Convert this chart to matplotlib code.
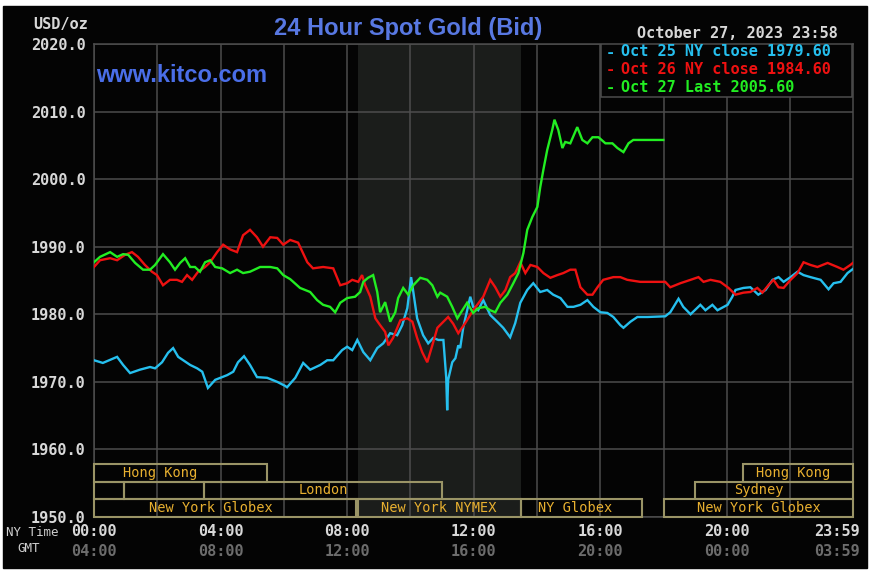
import matplotlib
matplotlib.use('Agg')
import matplotlib.pyplot as plt
from matplotlib.patches import Rectangle
from matplotlib import transforms

# ── 1. DATA (NY time in hours) ───────────────────────────────────────────────
oct25_hours = [0.00, 0.28, 0.73, 0.92, 1.14, 1.45, 1.77, 1.93, 2.15, 2.34, 2.50, 2.66,
               3.04, 3.26, 3.42, 3.60, 3.83, 4.21, 4.40, 4.55, 4.74, 4.93, 5.15, 5.47,
               5.79, 6.04, 6.10, 6.36, 6.61, 6.83, 7.15, 7.37, 7.56, 7.84, 8.00, 8.16,
               8.32, 8.51, 8.73, 8.95, 9.14, 9.36, 9.58, 9.74, 9.90, 10.02, 10.09, 10.21,
               10.40, 10.56, 10.72, 10.88, 11.04, 11.13, 11.16, 11.19, 11.32, 11.42, 11.51,
               11.57, 11.67, 11.89, 11.98, 12.14, 12.30, 12.52, 12.74, 12.93, 13.15, 13.31,
               13.47, 13.69, 13.88, 14.10, 14.32, 14.51, 14.74, 14.96, 15.15, 15.37, 15.59,
               15.78, 16.00, 16.22, 16.41, 16.63, 16.73, 16.95, 17.17, 17.49, 18.05, 18.21,
               18.47, 18.62, 18.85, 19.16, 19.32, 19.54, 19.70, 20.02, 20.17, 20.27, 20.52,
               20.74, 20.99, 21.22, 21.44, 21.63, 21.79, 22.01, 22.23, 22.42, 22.64, 22.96,
               23.21, 23.37, 23.59, 23.81, 23.98]
oct25_price = [1973.2, 1972.8, 1973.7, 1972.5, 1971.3, 1971.8, 1972.2, 1972.0, 1972.9, 1974.3,
               1975.0, 1973.7, 1972.5, 1972.0, 1971.5, 1969.1, 1970.3, 1971.0, 1971.5, 1972.9,
               1973.8, 1972.5, 1970.7, 1970.6, 1970.0, 1969.4, 1969.2, 1970.6, 1972.8, 1971.8,
               1972.5, 1973.2, 1973.2, 1974.7, 1975.2, 1974.7, 1976.2, 1974.4, 1973.2, 1975.0,
               1975.7, 1977.2, 1976.9, 1978.4, 1980.9, 1985.5, 1983.3, 1979.4, 1976.9, 1975.7,
               1976.5, 1976.2, 1976.2, 1970.6, 1965.8, 1970.3, 1972.9, 1973.5, 1975.4, 1975.0,
               1978.1, 1982.6, 1981.1, 1980.6, 1982.1, 1979.9, 1978.9, 1978.0, 1976.6, 1978.7,
               1981.7, 1983.6, 1984.6, 1983.3, 1983.6, 1982.9, 1982.4, 1981.1, 1981.1, 1981.4,
               1982.1, 1981.1, 1980.3, 1980.2, 1979.6, 1978.4, 1978.0, 1978.9, 1979.6, 1979.6,
               1979.7, 1980.3, 1982.3, 1981.1, 1980.0, 1981.4, 1980.6, 1981.4, 1980.6, 1981.4,
               1982.6, 1983.6, 1983.9, 1984.0, 1982.9, 1983.6, 1985.1, 1985.5, 1984.8, 1985.5,
               1986.3, 1985.8, 1985.5, 1985.1, 1983.7, 1984.6, 1984.8, 1986.1, 1986.7]

oct26_hours = [0.00, 0.19, 0.51, 0.73, 0.98, 1.20, 1.39, 1.61, 1.83, 1.99, 2.18, 2.40, 2.62,
               2.78, 2.94, 3.10, 3.29, 3.51, 3.67, 3.89, 4.08, 4.30, 4.52, 4.71, 4.93, 5.15,
               5.34, 5.57, 5.79, 5.98, 6.20, 6.45, 6.74, 6.92, 7.24, 7.56, 7.78, 8.00, 8.16,
               8.35, 8.47, 8.57, 8.73, 8.89, 9.04, 9.20, 9.30, 9.45, 9.68, 9.90, 10.06, 10.21,
               10.37, 10.53, 10.69, 10.85, 11.04, 11.19, 11.35, 11.51, 11.73, 11.98, 12.30,
               12.52, 12.68, 12.84, 13.00, 13.15, 13.31, 13.47, 13.63, 13.79, 14.01, 14.20,
               14.42, 14.64, 14.83, 15.05, 15.21, 15.37, 15.59, 15.75, 15.91, 16.09, 16.41,
               16.63, 16.85, 17.26, 18.05, 18.21, 18.53, 18.85, 19.10, 19.26, 19.48, 19.79,
               20.05, 20.27, 20.52, 20.74, 20.96, 21.12, 21.31, 21.47, 21.63, 21.79, 22.01,
               22.23, 22.42, 22.64, 22.86, 23.18, 23.49, 23.68, 23.90, 23.98]
oct26_price = [1987.0, 1988.0, 1988.3, 1988.0, 1988.8, 1989.2, 1988.5, 1987.3, 1986.3, 1985.8,
               1984.3, 1985.1, 1985.1, 1984.8, 1985.8, 1985.1, 1986.3, 1987.0, 1987.7, 1989.2,
               1990.3, 1989.6, 1989.2, 1991.7, 1992.5, 1991.4, 1990.0, 1991.4, 1991.3, 1990.3,
               1991.0, 1990.6, 1987.7, 1986.8, 1987.0, 1986.8, 1984.3, 1984.6, 1985.1, 1984.8,
               1985.8, 1984.3, 1982.6, 1979.4, 1978.4, 1977.4, 1975.4, 1976.5, 1979.1, 1979.4,
               1978.9, 1976.5, 1974.4, 1972.9, 1975.4, 1978.0, 1978.9, 1979.6, 1978.6, 1977.2,
               1978.7, 1980.6, 1982.6, 1985.1, 1984.0, 1982.6, 1983.6, 1985.5, 1986.1, 1987.7,
               1986.1, 1987.3, 1987.0, 1986.1, 1985.4, 1985.8, 1986.1, 1986.6, 1986.6, 1984.0,
               1982.9, 1982.9, 1984.0, 1985.1, 1985.5, 1985.5, 1985.1, 1984.8, 1984.8, 1984.0,
               1984.6, 1985.1, 1985.5, 1984.8, 1985.1, 1984.8, 1983.9, 1982.9, 1983.2, 1983.3,
               1983.9, 1983.2, 1984.3, 1985.1, 1984.0, 1983.9, 1985.1, 1986.1, 1987.7, 1987.3,
               1987.0, 1987.6, 1987.0, 1986.6, 1987.3, 1987.6]

oct27_hours = [0.00, 0.19, 0.51, 0.73, 0.92, 1.08, 1.30, 1.55, 1.77, 1.93, 2.18, 2.40, 2.56,
               2.72, 2.88, 3.04, 3.19, 3.35, 3.51, 3.67, 3.83, 4.05, 4.30, 4.52, 4.71, 4.93,
               5.25, 5.57, 5.79, 5.98, 6.20, 6.51, 6.83, 7.05, 7.24, 7.46, 7.62, 7.78, 8.00,
               8.25, 8.41, 8.51, 8.66, 8.82, 8.95, 9.04, 9.20, 9.36, 9.52, 9.61, 9.77, 9.93,
               10.09, 10.31, 10.53, 10.69, 10.85, 10.94, 11.16, 11.32, 11.48, 11.64, 11.79,
               11.98, 12.14, 12.36, 12.52, 12.68, 12.84, 13.06, 13.25, 13.41, 13.57, 13.69,
               13.85, 14.01, 14.10, 14.20, 14.32, 14.48, 14.55, 14.67, 14.80, 14.89, 15.05,
               15.27, 15.43, 15.59, 15.75, 15.94, 16.16, 16.38, 16.54, 16.73, 16.89, 17.04,
               17.26, 17.99]
oct27_price = [1987.7, 1988.5, 1989.2, 1988.5, 1988.9, 1988.8, 1987.6, 1986.6, 1986.6, 1987.3,
               1988.9, 1987.7, 1986.6, 1987.6, 1988.3, 1987.0, 1987.0, 1986.3, 1987.7, 1988.0,
               1987.0, 1986.8, 1986.1, 1986.6, 1986.1, 1986.3, 1987.0, 1987.0, 1986.8, 1985.8,
               1985.2, 1983.9, 1983.3, 1982.1, 1981.4, 1981.1, 1980.3, 1981.7, 1982.4, 1982.6,
               1983.3, 1984.8, 1985.4, 1985.8, 1983.3, 1980.3, 1981.8, 1978.9, 1980.3, 1982.4,
               1983.9, 1982.9, 1984.3, 1985.4, 1985.1, 1984.3, 1982.6, 1983.2, 1982.6, 1981.1,
               1979.4, 1980.6, 1981.7, 1980.2, 1980.9, 1981.1, 1980.6, 1980.3, 1981.7, 1982.9,
               1984.6, 1986.1, 1989.1, 1992.5, 1994.4, 1995.9, 1998.8, 2001.4, 2004.3, 2007.3,
               2008.8, 2007.3, 2004.6, 2005.5, 2005.3, 2007.7, 2005.8, 2005.3, 2006.2, 2006.2,
               2005.3, 2005.3, 2004.6, 2004.0, 2005.3, 2005.8, 2005.8, 2005.8]

legend_labels = ['Oct 25 NY close 1979.60', 'Oct 26 NY close 1984.60', 'Oct 27 Last 2005.60']

# market sessions: row (0 = bottom), start hour, end hour, label
session_row   = [2, 2, 1, 1, 1, 1, 0, 0, 0, 0]
session_start = [0.0, 20.5, 0.0, 0.95, 3.48, 19.0, 0.0, 8.33, 13.5, 18.0]
session_end   = [5.47, 24.0, 0.95, 3.48, 11.0, 24.0, 8.27, 13.5, 17.33, 24.0]
session_label = ['Hong Kong', 'Hong Kong', '', '', 'London', 'Sydney',
                 'New York Globex', 'New York NYMEX', 'NY Globex', 'New York Globex']
session_label_at = [2.1, 22.1, 0, 0, 7.25, 21.0, 3.7, 10.9, 15.2, 21.0]

nymex_open, nymex_close = 8 + 20 / 60, 13.5
ny_ticks  = [0, 4, 8, 12, 16, 20, 23.983]
ny_labels = ['00:00', '04:00', '08:00', '12:00', '16:00', '20:00', '23:59']
gmt_labels = ['04:00', '08:00', '12:00', '16:00', '20:00', '00:00', '03:59']
price_ticks = [1950, 1960, 1970, 1980, 1990, 2000, 2010, 2020]

# ── 2. STYLE ─────────────────────────────────────────────────────────────────
W, H = 872, 577
BG = '#040404'
GRID = '#4d4d4d'
MONO = 'DejaVu Sans Mono'
colors = ['#26bfee', '#ee1111', '#22ee22']


def fx(px):
    return px / W


def fy(py):
    return 1 - py / H


fig = plt.figure(figsize=(W / 100, H / 100), dpi=100)
fig.patch.set_facecolor('white')
fig.patches.append(Rectangle((fx(3), fy(568)), fx(864), 562 / H,
                             transform=fig.transFigure, color=BG, zorder=-10))

ax = fig.add_axes([fx(94), fy(517), fx(759), 473 / H])
ax.set_facecolor(BG)
ax.set_xlim(0, 23.983)
ax.set_ylim(1950, 2020)

ax.axvspan(nymex_open, nymex_close, color='#1b1d1b', zorder=0, lw=0)

ax.set_xticks(range(0, 24, 2))
ax.set_xticklabels([])
ax.set_yticks(price_ticks)
ax.set_yticklabels([f'{p:.1f}' for p in price_ticks], family=MONO,
                   fontweight='bold', fontsize=11, color='#d8d8d8')
ax.tick_params(length=0, pad=6)
ax.grid(True, color=GRID, lw=1.1, zorder=1)
for s in ax.spines.values():
    s.set_color(GRID)
    s.set_linewidth(1.1)

# ── 3. PRICE LINES ───────────────────────────────────────────────────────────
for hrs, price, c in [(oct25_hours, oct25_price, colors[0]),
                      (oct26_hours, oct26_price, colors[1]),
                      (oct27_hours, oct27_price, colors[2])]:
    ax.plot(hrs, price, color=c, lw=1.7, zorder=4, solid_joinstyle='miter')

# ── 4. SESSION BOXES ─────────────────────────────────────────────────────────
row_h = 2.62
for r, a, b, lab, at in zip(session_row, session_start, session_end,
                            session_label, session_label_at):
    y0 = 1950 + r * row_h
    ax.add_patch(Rectangle((a, y0), min(b, 23.983) - a, row_h, fill=False,
                           edgecolor='#9a9466', lw=1.5, zorder=3, clip_on=False))
    if lab:
        ax.text(at, y0 + row_h / 2, lab, ha='center', va='center', family=MONO,
                fontsize=9.8, color='#e8b030', zorder=5)

# ── 5. LEGEND BOX ────────────────────────────────────────────────────────────
ax.add_patch(Rectangle((fx(601), fy(97)), fx(852) - fx(601), 53 / H,
                       transform=fig.transFigure, facecolor=BG,
                       edgecolor=GRID, lw=1.1, zorder=6))
for i, (lab, c) in enumerate(zip(legend_labels, colors)):
    y = fy(52 + i * 17.5)
    fig.text(fx(606), y, '-', color=c, family=MONO, fontweight='bold',
             fontsize=11, va='center', zorder=7)
    fig.text(fx(621), y, lab, color=c, family=MONO, fontweight='bold',
             fontsize=11, va='center', zorder=7)

# ── 6. TEXTS ─────────────────────────────────────────────────────────────────
fig.text(fx(408), fy(35), '24 Hour Spot Gold (Bid)', ha='center', va='baseline',
         family='Liberation Sans', fontweight='bold', fontsize=17, color='#5878e2')
fig.text(fx(96), fy(82), 'www.kitco.com', ha='left', va='baseline',
         family='Liberation Sans', fontweight='bold', fontsize=17, color='#4a6ee8')
fig.text(fx(838), fy(34), 'October 27, 2023 23:58', ha='right', va='center',
         family=MONO, fontweight='bold', fontsize=11, color='#d8d8d8')
fig.text(fx(88), fy(25), 'USD/oz', ha='right', va='center',
         family=MONO, fontweight='bold', fontsize=11, color='#d8d8d8')
fig.text(fx(6), fy(532), 'NY Time', ha='left', va='center',
         family=MONO, fontsize=9, color='#d0d0d0')
fig.text(fx(17), fy(548), 'GMT', ha='left', va='center',
         family=MONO, fontsize=9, color='#d0d0d0')

trans = transforms.blended_transform_factory(ax.transData, fig.transFigure)
for t, ny, gmt in zip(ny_ticks, ny_labels, gmt_labels):
    tr, ha = trans, 'center'
    if t == ny_ticks[-1]:
        tr = transforms.offset_copy(trans, fig=fig, x=7, y=0, units='dots')
        ha = 'right'
    ax.text(t, fy(532), ny, transform=tr, ha=ha, va='center', family=MONO,
            fontweight='bold', fontsize=11, color='#d8d8d8', clip_on=False)
    ax.text(t, fy(552), gmt, transform=tr, ha=ha, va='center', family=MONO,
            fontweight='bold', fontsize=11, color='#6c6c6c', clip_on=False)

fig.savefig('out.png', dpi=100, facecolor=fig.get_facecolor())
